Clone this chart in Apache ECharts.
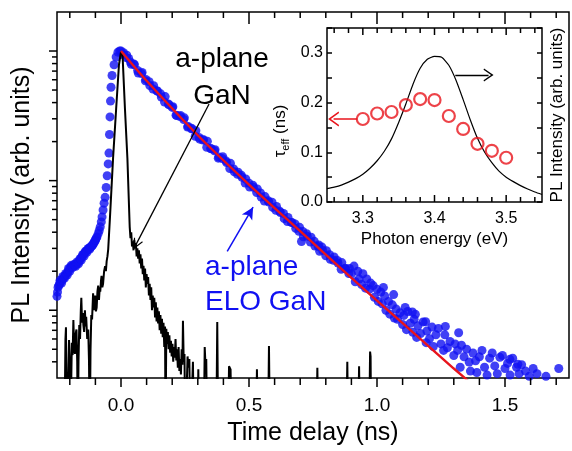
<!DOCTYPE html>
<html>
<head>
<meta charset="utf-8">
<script src="https://cdn.jsdelivr.net/npm/echarts@6/dist/echarts.min.js"></script>
<style>
html, body { margin: 0; padding: 0; background: #fff; }
#chart { width: 572px; height: 451px; }
</style>
</head>
<body>
<div id="chart"></div>
<script>
// ---------- Main panel: PL transients (time in ns, intensity normalised) ----------
// a-plane ELO GaN, rising edge
const eloRise = [
  [-0.250,0.0128],[-0.248,0.0138],[-0.246,0.0150],[-0.243,0.0155],[-0.240,0.0160],[-0.238,0.0170],
  [-0.235,0.0166],[-0.232,0.0162],[-0.229,0.0172],[-0.227,0.0182],[-0.224,0.0178],[-0.221,0.0176],
  [-0.218,0.0185],[-0.216,0.0192],[-0.213,0.0190],[-0.210,0.0187],[-0.207,0.0198],[-0.205,0.0210],
  [-0.202,0.0206],[-0.200,0.0200],[-0.197,0.0216],[-0.194,0.0222],[-0.191,0.0218],[-0.188,0.0214],
  [-0.186,0.0219],[-0.183,0.0226],[-0.180,0.0222],[-0.177,0.0218],[-0.174,0.0227],[-0.172,0.0236],
  [-0.169,0.0232],[-0.166,0.0228],[-0.163,0.0240],[-0.160,0.0250],[-0.158,0.0249],[-0.155,0.0244],
  [-0.153,0.0258],[-0.150,0.0268],[-0.147,0.0268],[-0.144,0.0262],[-0.142,0.0277],[-0.139,0.0285],
  [-0.136,0.0285],[-0.133,0.0280],[-0.131,0.0292],[-0.128,0.0300],[-0.125,0.0300],[-0.122,0.0296],
  [-0.120,0.0305],[-0.117,0.0312],[-0.114,0.0312],[-0.111,0.0318],[-0.109,0.0322],[-0.106,0.0332],
  [-0.104,0.0335],[-0.101,0.0345],[-0.099,0.0350],[-0.096,0.0362],[-0.094,0.0368],[-0.089,0.0390],
  [-0.085,0.0412],[-0.081,0.0440],[-0.077,0.0480],[-0.074,0.0525],[-0.070,0.0593],[-0.066,0.0670],
  [-0.062,0.0743],[-0.058,0.0885],[-0.054,0.109],[-0.050,0.1345],[-0.047,0.163],[-0.045,0.227],
  [-0.043,0.310],[-0.041,0.411],[-0.039,0.525],[-0.035,0.647],[-0.027,0.783],[-0.019,0.900],
  [-0.012,0.980],[-0.005,1.00]
];
// a-plane ELO GaN, main decay
const eloDecay = [
  [0.000,1.00],[0.0075,0.940],[0.010,0.970],[0.020,0.889],[0.0225,0.929],[0.030,0.877],[0.0375,0.820],
  [0.040,0.791],[0.050,0.794],[0.0525,0.783],[0.065,0.708],[0.0675,0.676],[0.080,0.670],[0.0825,0.684],
  [0.095,0.589],[0.0975,0.604],[0.110,0.579],[0.1125,0.542],[0.125,0.509],[0.1275,0.540],[0.140,0.492],
  [0.1425,0.491],[0.155,0.467],[0.1575,0.441],[0.170,0.404],[0.1725,0.445],[0.185,0.390],[0.1875,0.385],
  [0.200,0.367],[0.2025,0.372],[0.215,0.320],[0.2175,0.318],[0.230,0.312],[0.2325,0.318],[0.245,0.296],
  [0.2475,0.305],[0.260,0.259],[0.2625,0.262],[0.275,0.251],[0.2775,0.252],[0.290,0.220],[0.2925,0.243],
  [0.305,0.215],[0.3075,0.209],[0.320,0.206],[0.3225,0.207],[0.335,0.181],[0.3375,0.201],[0.350,0.177],
  [0.3525,0.176],[0.365,0.170],[0.3675,0.173],[0.380,0.149],[0.3825,0.152],[0.395,0.148],[0.3975,0.153],
  [0.410,0.142],[0.4125,0.138],[0.425,0.124],[0.4275,0.136],[0.440,0.123],[0.4425,0.117],[0.455,0.112],
  [0.4575,0.116],[0.470,0.110],[0.4725,0.106],[0.485,0.0959],[0.4875,0.103],[0.500,0.0955],
  [0.5025,0.0891],[0.515,0.0923],[0.5175,0.0887],[0.530,0.0809],[0.5325,0.0863],[0.545,0.0802],
  [0.5475,0.0748],[0.560,0.0695],[0.5625,0.0753],[0.575,0.0700],[0.5775,0.0684],[0.590,0.0681],
  [0.5925,0.0621],[0.605,0.0590],[0.6075,0.0632],[0.620,0.0580],[0.6225,0.0568],[0.635,0.0558],
  [0.6375,0.0509],[0.650,0.0484],[0.6525,0.0519],[0.665,0.0476],[0.6675,0.0476],[0.680,0.0463],
  [0.6825,0.0428],[0.695,0.0406],[0.6975,0.0436],[0.705,0.0339],[0.710,0.0405],[0.7125,0.0369],
  [0.725,0.0389],[0.7275,0.0372],[0.740,0.0336],[0.7425,0.0366],[0.755,0.0340],[0.7575,0.0313],
  [0.770,0.0310],[0.7725,0.0319],[0.776,0.0285],[0.785,0.0307],[0.7875,0.0290],[0.800,0.0263],
  [0.8025,0.0288],[0.815,0.0268],[0.8175,0.0247],[0.830,0.0243],[0.8325,0.0258],[0.845,0.0242],
  [0.8475,0.0231],[0.860,0.0207],[0.8625,0.0233],[0.875,0.0211],[0.8775,0.0209],[0.890,0.0192],
  [0.8925,0.0210]
];
// a-plane ELO GaN, slow tail
const eloTail = [
  [0.900,0.0191],[0.910,0.0219],[0.915,0.0166],[0.925,0.0200],[0.930,0.0174],[0.940,0.0158],
  [0.945,0.0191],[0.955,0.0148],[0.960,0.0174],[0.970,0.0145],[0.975,0.0162],[0.985,0.0155],
  [0.990,0.0126],[1.000,0.0145],[1.005,0.0117],[1.015,0.0138],[1.020,0.0112],[1.025,0.0150],
  [1.030,0.0129],[1.035,0.0100],[1.045,0.0117],[1.050,0.00933],[1.060,0.0110],[1.065,0.0132],
  [1.068,0.00871],[1.075,0.0102],[1.080,0.00851],[1.090,0.00955],[1.100,0.00776],[1.105,0.00912],
  [1.110,0.0105],[1.115,0.00708],[1.120,0.00977],[1.130,0.00794],[1.138,0.0097],[1.140,0.00676],
  [1.145,0.00851],[1.150,0.0093],[1.155,0.00617],[1.160,0.00759],[1.170,0.00661],[1.180,0.00813],
  [1.190,0.00815],[1.192,0.00562],[1.195,0.00692],[1.205,0.00603],[1.215,0.00741],[1.220,0.00525],
  [1.230,0.00646],[1.240,0.00724],[1.250,0.00550],[1.260,0.00490],[1.265,0.00646],[1.267,0.0075],
  [1.275,0.00513],[1.285,0.00575],[1.300,0.00447],[1.305,0.00550],[1.315,0.00490],[1.319,0.0067],
  [1.325,0.00363],[1.330,0.00537],[1.340,0.00437],[1.350,0.00501],[1.360,0.00398],[1.365,0.00339],
  [1.375,0.00468],[1.385,0.00407],[1.390,0.00331],[1.400,0.00437],[1.410,0.00490],[1.420,0.00363],
  [1.430,0.00316],[1.440,0.00427],[1.450,0.00468],[1.460,0.00372],[1.470,0.00324],[1.480,0.00433],
  [1.490,0.00447],[1.500,0.00355],[1.510,0.00389],[1.519,0.00418],[1.520,0.00316],[1.530,0.00427],
  [1.545,0.00363],[1.550,0.00383],[1.555,0.00324],[1.565,0.00380],[1.580,0.00339],[1.595,0.00309],
  [1.610,0.00355],[1.625,0.00324],[1.660,0.00309],[1.710,0.00355]
];
// a-plane GaN (noisy, fast decay); 0.001 lies below the axis floor
const ganTrace = [
  [-0.256,0.001],[-0.221,0.001],[-0.217,0.0060],[-0.215,0.0074],[-0.212,0.001],[-0.206,0.001],
  [-0.203,0.0059],[-0.200,0.0040],[-0.198,0.001],[-0.194,0.001],[-0.192,0.0056],[-0.189,0.0045],
  [-0.186,0.0084],[-0.183,0.0050],[-0.180,0.0046],[-0.177,0.0066],[-0.174,0.0071],[-0.171,0.0040],
  [-0.169,0.001],[-0.166,0.0040],[-0.163,0.0077],[-0.160,0.0060],[-0.157,0.0100],[-0.155,0.0125],
  [-0.152,0.0080],[-0.149,0.0095],[-0.147,0.0077],[-0.144,0.0068],[-0.141,0.0100],[-0.138,0.0075],
  [-0.136,0.0089],[-0.132,0.0060],[-0.128,0.0071],[-0.125,0.0040],[-0.122,0.001],[-0.119,0.0050],
  [-0.116,0.0092],[-0.113,0.0085],[-0.109,0.0135],[-0.106,0.0100],[-0.103,0.0120],[-0.101,0.0130],
  [-0.098,0.0098],[-0.095,0.0105],[-0.092,0.0140],[-0.089,0.0155],[-0.086,0.0120],[-0.083,0.0150],
  [-0.081,0.0139],[-0.078,0.0170],[-0.076,0.0184],[-0.073,0.0150],[-0.070,0.0160],[-0.066,0.0200],
  [-0.062,0.0219],[-0.059,0.0200],[-0.056,0.0239],[-0.053,0.0260],[-0.050,0.0295],[-0.043,0.0525],
  [-0.031,0.149],[-0.019,0.357],[-0.008,0.783],[0.000,0.983],[0.006,0.933],[0.0155,0.357],
  [0.025,0.149],[0.034,0.044],[0.037,0.036],[0.040,0.040],[0.043,0.031],[0.046,0.034],[0.049,0.029],
  [0.052,0.035],[0.055,0.030],[0.058,0.033],[0.061,0.026],[0.064,0.030],[0.067,0.025],[0.070,0.029],
  [0.073,0.023],[0.076,0.027],[0.079,0.021],[0.082,0.025],[0.085,0.019],[0.088,0.022],[0.091,0.017],
  [0.094,0.021],[0.097,0.015],[0.100,0.019],[0.103,0.016],[0.106,0.018],[0.109,0.013],[0.112,0.016],
  [0.115,0.012],[0.118,0.015],[0.121,0.010],[0.124,0.013],[0.127,0.0105],[0.130,0.0125],[0.133,0.0088],
  [0.136,0.0115],[0.139,0.0082],[0.142,0.0105],[0.145,0.0079],[0.148,0.0098],[0.151,0.0070],
  [0.154,0.0092],[0.157,0.0066],[0.160,0.0086],[0.163,0.0062],[0.166,0.0080],[0.169,0.0052],
  [0.172,0.0075],[0.174,0.001],[0.177,0.0072],[0.180,0.0055],[0.183,0.0068],[0.186,0.0050],
  [0.189,0.0064],[0.192,0.0047],[0.195,0.0058],[0.198,0.0044],[0.201,0.0055],[0.204,0.0040],
  [0.207,0.0052],[0.210,0.0043],[0.213,0.0060],[0.216,0.0041],[0.219,0.0050],[0.222,0.0036],
  [0.225,0.0052],[0.228,0.0034],[0.231,0.0042],[0.234,0.0032],[0.237,0.0050],[0.240,0.0038],
  [0.242,0.0083],[0.245,0.0040],[0.248,0.0046],[0.251,0.001],[0.257,0.001],[0.260,0.0044],
  [0.263,0.0036],[0.267,0.0042],[0.271,0.001],[0.277,0.001],[0.281,0.0040],[0.285,0.001],
  [0.299,0.001],[0.302,0.0035],[0.306,0.001],[0.323,0.001],[0.327,0.0052],[0.330,0.0038],
  [0.333,0.0042],[0.337,0.001],[0.372,0.001],[0.376,0.0081],[0.380,0.001],[0.418,0.001],
  [0.422,0.0037],[0.428,0.0035],[0.432,0.001],[0.527,0.001],[0.531,0.0035],[0.535,0.001],
  [0.574,0.001],[0.578,0.0053],[0.582,0.001],[0.763,0.001],[0.767,0.0036],[0.771,0.001],
  [0.880,0.001],[0.884,0.0040],[0.888,0.001],[0.926,0.001],[0.930,0.0037],[0.934,0.001],
  [0.969,0.001],[0.973,0.0048],[0.975,0.0044],[0.977,0.001],[1.750,0.001]
];
// exponential fit to the ELO GaN decay
const fitCurve = [
  [0.0,1.0],[0.1,0.589],[0.3,0.224],[0.5,0.0933],[0.7,0.0407],[0.9,0.0178],[1.1,0.00794],
  [1.3,0.00355],[1.4,0.0024]
];
// main axis ticks
const timeTicks = [-0.2,-0.1,0,0.1,0.2,0.3,0.4,0.5,0.6,0.7,0.8,0.9,1,1.1,1.2,1.3,1.4,1.5,1.6,1.7];
const timeMajor = [0,0.5,1,1.5];
const intensityDecades = [0.01,0.1,1];
const intensityMinor = [0.004,0.005,0.006,0.007,0.008,0.009,
  0.02,0.03,0.04,0.05,0.06,0.07,0.08,0.09,
  0.2,0.3,0.4,0.5,0.6,0.7,0.8,0.9];

// ---------- Inset: spectrum and effective lifetime vs photon energy ----------
const plSpectrum = [
  [3.25,0.027],[3.26,0.030],[3.27,0.034],[3.28,0.040],[3.29,0.047],[3.30,0.056],[3.31,0.068],
  [3.32,0.083],[3.33,0.102],[3.34,0.127],[3.35,0.160],[3.36,0.197],[3.37,0.237],[3.38,0.269],
  [3.39,0.287],[3.40,0.293],[3.41,0.291],[3.42,0.275],[3.43,0.245],[3.44,0.206],[3.45,0.165],
  [3.46,0.128],[3.47,0.100],[3.48,0.079],[3.49,0.062],[3.50,0.050],[3.51,0.041],[3.52,0.033],
  [3.53,0.026],[3.54,0.020],[3.55,0.015]
];
const photonEnergy = [3.30,3.32,3.34,3.36,3.38,3.40,3.42,3.44,3.46,3.48,3.50];
const tauEff = [0.167,0.178,0.181,0.195,0.207,0.205,0.173,0.147,0.117,0.103,0.089];
const energyTicks = [3.26,3.28,3.3,3.32,3.34,3.36,3.38,3.4,3.42,3.44,3.46,3.48,3.5,3.52,3.54];
const energyMajor = [3.3,3.4,3.5];

const FONT = '"Liberation Sans", Arial, Helvetica, sans-serif';
const T_MIN = -0.25, T_MAX = 1.75, I_MIN = 0.003, I_MAX = 2;
const E_MIN = 3.25, E_MAX = 3.55, TAU_MIN = 0, TAU_MAX = 0.35;
const BLUE = '#1010f2', RED = '#e8141c';
const chevron = 'path://M10,0 L20,19 L18,20 L10,5 L2,20 L0,19 Z';

const mainTickData = [];
timeTicks.forEach(t => mainTickData.push([t, I_MIN, 0, timeMajor.includes(t) ? 1 : 0]));
intensityDecades.forEach(v => mainTickData.push([T_MIN, v, 1, 1]));
intensityMinor.forEach(v => mainTickData.push([T_MIN, v, 1, 0]));

const insetTickData = energyTicks.map(e => [e, TAU_MIN, energyMajor.includes(e) ? 1 : 0]);

const tickStyle = { stroke: '#000', lineWidth: 1.5 };

function renderMainTick(params, api) {
  const major = api.value(3) === 1;
  if (api.value(2) === 0) {
    const b = api.coord([api.value(0), I_MIN]);
    const t = api.coord([api.value(0), I_MAX]);
    return {
      type: 'group',
      children: [
        { type: 'line', shape: { x1: b[0], y1: b[1], x2: b[0], y2: b[1] + (major ? 9 : 7) }, style: tickStyle },
        { type: 'line', shape: { x1: t[0], y1: t[1], x2: t[0], y2: t[1] + (major ? 12 : 6) }, style: tickStyle }
      ]
    };
  }
  const p = api.coord([T_MIN, api.value(1)]);
  return { type: 'line', shape: { x1: p[0] - (major ? 8 : 5), y1: p[1], x2: p[0], y2: p[1] }, style: tickStyle };
}

function renderInsetTick(params, api) {
  const major = api.value(2) === 1;
  const len = major ? 7 : 5;
  const b = api.coord([api.value(0), TAU_MIN]);
  const t = api.coord([api.value(0), TAU_MAX]);
  return {
    type: 'group',
    children: [
      { type: 'line', shape: { x1: b[0], y1: b[1], x2: b[0], y2: b[1] - len }, style: tickStyle },
      { type: 'line', shape: { x1: t[0], y1: t[1], x2: t[0], y2: t[1] + len }, style: tickStyle }
    ]
  };
}

const isMultiple = (v, step) => Math.abs(v / step - Math.round(v / step)) < 1e-6;

const arrowLine = (from, to, color, width, symbol, size) => ({
  silent: true,
  symbol: ['none', symbol],
  symbolSize: size,
  label: { show: false },
  emphasis: { disabled: true },
  lineStyle: { color: color, width: width, type: 'solid' },
  data: [[{ coord: from }, { coord: to }]],
  animation: false
});

const chart = echarts.init(document.getElementById('chart'), null, { renderer: 'canvas' });

chart.setOption({
  animation: false,
  backgroundColor: '#fff',
  textStyle: { fontFamily: FONT, color: '#000' },
  grid: [
    { left: 57, top: 12, right: -2, bottom: 67, show: true, borderColor: '#000', borderWidth: 1.5,
      backgroundColor: 'transparent' },
    { left: 327, top: 28, width: 215, height: 174, show: true, borderColor: '#000', borderWidth: 1.5,
      backgroundColor: '#fff' }
  ],
  xAxis: [
    {
      gridIndex: 0, type: 'value', min: T_MIN, max: T_MAX, interval: 0.05,
      axisLine: { show: false }, axisTick: { show: false }, splitLine: { show: false },
      axisLabel: {
        fontSize: 19, color: '#000', margin: 18, fontFamily: FONT,
        formatter: v => isMultiple(v, 0.5) ? v.toFixed(1) : ''
      },
      name: 'Time delay (ns)', nameLocation: 'middle', nameGap: 43,
      nameTextStyle: { fontSize: 25, color: '#000', fontFamily: FONT }
    },
    {
      gridIndex: 1, type: 'value', min: E_MIN, max: E_MAX, interval: 0.05,
      axisLine: { show: false }, axisTick: { show: false }, splitLine: { show: false },
      axisLabel: {
        fontSize: 16, color: '#000', margin: 9, fontFamily: FONT,
        formatter: v => isMultiple(v, 0.1) ? v.toFixed(1) : ''
      },
      name: 'Photon energy (eV)', nameLocation: 'middle', nameGap: 29,
      nameTextStyle: { fontSize: 17, color: '#000', fontFamily: FONT }
    }
  ],
  yAxis: [
    {
      gridIndex: 0, type: 'log', logBase: 10, min: I_MIN, max: I_MAX,
      axisLine: { show: false }, axisTick: { show: false }, splitLine: { show: false },
      axisLabel: { show: false },
      name: 'PL Intensity (arb. units)', nameLocation: 'middle', nameGap: 22,
      nameTextStyle: { fontSize: 25, color: '#000', fontFamily: FONT }
    },
    {
      gridIndex: 1, type: 'value', min: TAU_MIN, max: TAU_MAX, interval: 0.05,
      axisLine: { show: false }, splitLine: { show: false },
      axisTick: { show: true, inside: true, length: 5, lineStyle: { color: '#000', width: 1.5 } },
      axisLabel: {
        fontSize: 16, color: '#000', margin: 4, fontFamily: FONT,
        formatter: v => isMultiple(v, 0.1) ? v.toFixed(1) : ''
      },
      name: '{a|τ}{s|eff}{a| (ns)}', nameLocation: 'middle', nameGap: 36,
      nameTextStyle: {
        padding: [0, 32, 0, 0],
        rich: {
          a: { fontSize: 17, fontFamily: FONT, color: '#000', lineHeight: 22 },
          s: { fontSize: 11, fontFamily: FONT, color: '#000', lineHeight: 22, verticalAlign: 'bottom' }
        }
      }
    },
    {
      gridIndex: 1, type: 'value', position: 'right', min: TAU_MIN, max: TAU_MAX, interval: 0.05,
      axisLine: { show: false }, splitLine: { show: false },
      axisTick: { show: true, inside: true, length: 5, lineStyle: { color: '#000', width: 1.5 } },
      axisLabel: { show: false },
      name: 'PL Intensity (arb. units)', nameLocation: 'middle', nameGap: 7,
      nameTextStyle: { fontSize: 17, color: '#000', fontFamily: FONT }
    }
  ],
  series: [
    {
      name: 'a-plane ELO GaN', type: 'scatter', xAxisIndex: 0, yAxisIndex: 0,
      data: eloRise.concat(eloDecay, eloTail),
      symbol: 'circle', symbolSize: 9, itemStyle: { color: BLUE },
      silent: true, z: 2,
      markLine: arrowLine([0.415, 0.0285], [0.516, 0.0624], BLUE, 1.5, 'arrow', [9, 12])
    },
    {
      name: 'a-plane GaN', type: 'line', xAxisIndex: 0, yAxisIndex: 0,
      data: ganTrace, showSymbol: false, symbol: 'none', clip: true,
      lineStyle: { color: '#000', width: 2 }, silent: true, z: 3,
      markLine: arrowLine([0.344, 0.39], [0.059, 0.0322], '#000', 1.3, chevron, [10, 11])
    },
    {
      name: 'fit', type: 'line', xAxisIndex: 0, yAxisIndex: 0,
      data: fitCurve, showSymbol: false, symbol: 'none', clip: true, smooth: 0.25,
      lineStyle: { color: RED, width: 2.4 }, silent: true, z: 4
    },
    {
      type: 'custom', xAxisIndex: 0, yAxisIndex: 0, data: mainTickData,
      encode: { x: 0, y: 1 }, renderItem: renderMainTick, silent: true, clip: false, z: 6
    },
    {
      name: 'PL spectrum', type: 'line', xAxisIndex: 1, yAxisIndex: 2,
      data: plSpectrum, showSymbol: false, symbol: 'none', smooth: 0.2,
      lineStyle: { color: '#000', width: 1.2 }, silent: true, z: 3,
      markLine: arrowLine([3.429, 0.2554], [3.4754, 0.2554], '#000', 1.3, chevron, [13, 10])
    },
    {
      name: 'tau_eff', type: 'scatter', xAxisIndex: 1, yAxisIndex: 1,
      data: photonEnergy.map((e, i) => [e, tauEff[i]]),
      symbol: 'circle', symbolSize: 12,
      itemStyle: { color: 'rgba(0,0,0,0)', borderColor: RED, borderWidth: 2.2 },
      silent: true, z: 4,
      markLine: arrowLine([3.2918, 0.1668], [3.2592, 0.1668], RED, 1.5, chevron, [15, 11])
    },
    {
      type: 'custom', xAxisIndex: 1, yAxisIndex: 1, data: insetTickData,
      encode: { x: 0, y: 1 }, renderItem: renderInsetTick, silent: true, clip: false, z: 6
    }
  ],
  graphic: [
    { type: 'text', x: 222, y: 59, silent: true,
      style: { text: 'a-plane', fill: '#000', fontSize: 28, fontFamily: FONT, align: 'center', verticalAlign: 'middle' } },
    { type: 'text', x: 222, y: 96, silent: true,
      style: { text: 'GaN', fill: '#000', fontSize: 28, fontFamily: FONT, align: 'center', verticalAlign: 'middle' } },
    { type: 'text', x: 205, y: 267, silent: true,
      style: { text: 'a-plane', fill: BLUE, fontSize: 28, fontFamily: FONT, align: 'left', verticalAlign: 'middle' } },
    { type: 'text', x: 205, y: 302, silent: true,
      style: { text: 'ELO GaN', fill: BLUE, fontSize: 28, fontFamily: FONT, align: 'left', verticalAlign: 'middle' } }
  ]
});
</script>
</body>
</html>
